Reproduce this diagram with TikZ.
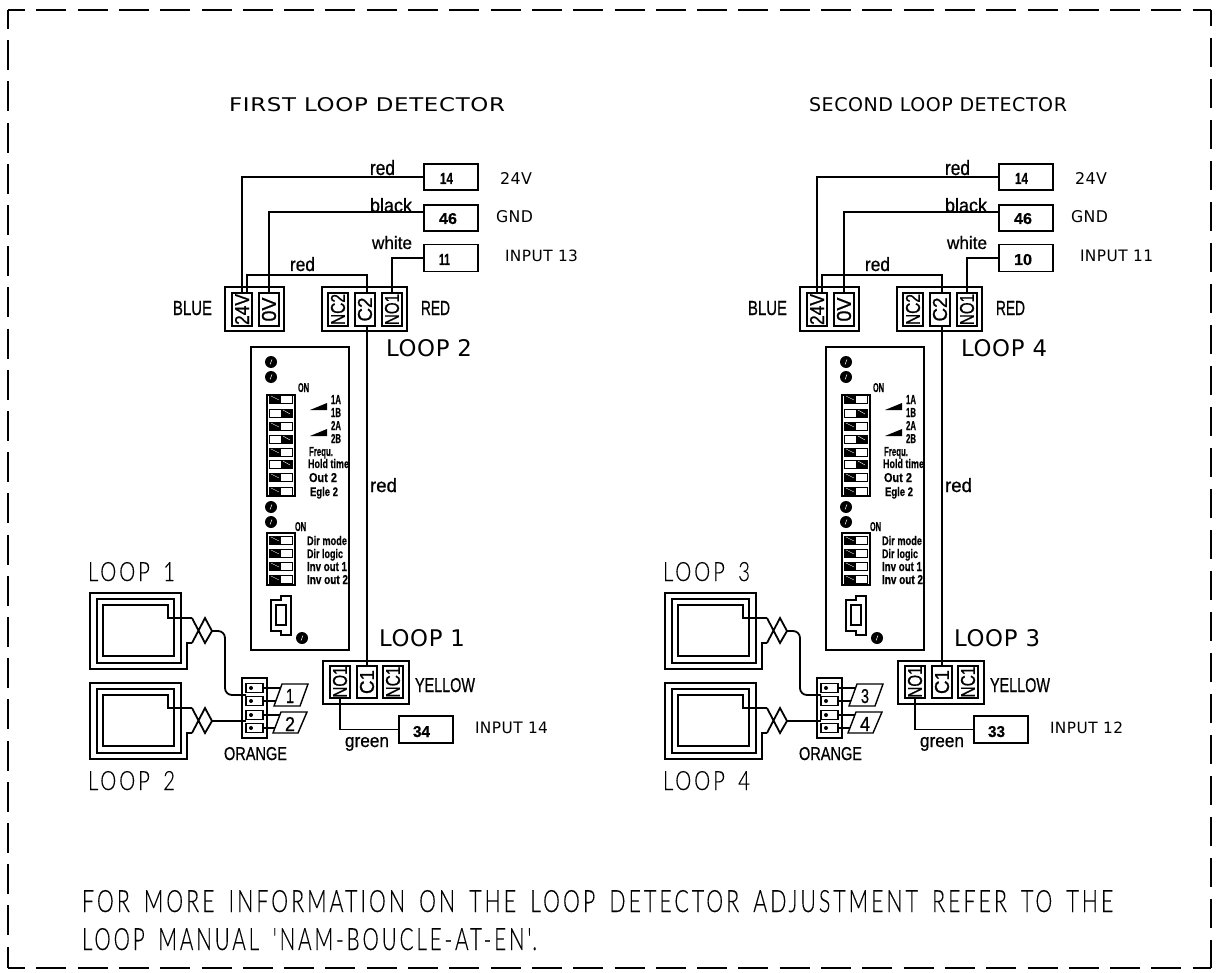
\documentclass[tikz,border=0pt]{standalone}
\usepackage{graphicx}
\usepackage{fontspec}
\setmainfont{Liberation Sans}
\newfontfamily\thinf[LetterSpace=12,FakeBold=0.25,FakeStretch=0.86,WordSpace=1.6]{Lato Light}
\newfontfamily\regf[LetterSpace=3]{DejaVu Sans}
\newfontfamily\cadf[FakeBold=0.8]{Liberation Sans}
\newfontfamily\smallf[FakeBold=0.5]{Liberation Sans Bold}
\newcommand{\T}[6]{\node[lbl] (#1) at (#2,#3) {\resizebox{#4pt}{#5pt}{#6}};}
\newcommand{\V}[6]{\node[lbl,anchor=center,rotate=90] (#1) at (#2,#3) {\resizebox{#4pt}{#5pt}{#6}};}
\newcommand{\ledmark}[3]{\node[led] (#1) at (#2,#3) {};\draw[white,line width=.5pt] (#2-1,#3+2.5) -- (#2+1,#3-2.5);}
\newcommand{\diprow}[3]{%
  \node[dipcell] (#1) at (280.5,#2) {};
  \if#3L\fill (269,#2-4) rectangle (281,#2+4);\draw[white,line width=.4pt] (271,#2-3) -- (279,#2+1);\else
  \fill (281,#2-4) rectangle (292,#2+4);\draw[white,line width=.4pt] (283,#2-3) -- (290,#2+1);\fi}
\newcommand{\spiral}[2]{%
  \coordinate (#1in) at (192,#2+25);
  \coordinate (#1out) at (192,#2+50);
  \draw[wire] (#1in) -- (168,#2+25) -- (168,#2+12) -- (103,#2+12) -- (103,#2+63) -- (174,#2+63)
     -- (174,#2+6) -- (97,#2+6) -- (97,#2+70) -- (181,#2+70) -- (181,#2) -- (90,#2) -- (90,#2+76)
     -- (187,#2+76) -- (187,#2+50) -- (#1out);
  \coordinate (#1tip) at (212,#2+38);
  \draw[wire] (#1in) -- (205,#2+50) -- (#1tip) -- (205,#2+25) -- (#1out);}
\newcommand{\detector}[8]{%
\begin{scope}[shift={(#2,0)},name prefix=#1-]
  % field boxes
  \node[fbox,minimum width=54,minimum height=26] (b14) at (451,177) {};
  \node[fbox,minimum width=54,minimum height=26] (b46) at (451,218) {};
  \node[fbox,minimum width=54,minimum height=27] (bin) at (451,258) {};
  \node[fbox,minimum width=54,minimum height=27] (bout) at (426,729.5) {};
  \T{n14}{440}{184}{13}{11}{\smallf 14}
  \T{n46}{439}{224}{18}{11}{\smallf 46}
  \T{nin}{439}{265}{#5}{11}{\smallf #6}
  \T{nout}{413}{737}{17}{11}{\smallf #7}
  % terminal blocks
  \node[fbox,minimum width=59,minimum height=44] (oB) at (254.5,309) {};
  \node[fbox,minimum width=85,minimum height=44] (oR) at (364.5,309) {};
  \node[fbox,minimum width=86,minimum height=43] (oY) at (366,682.5) {};
  \foreach \n/\x in {t24/242,t0/269,tNC2/338,tC2/365,tNO1/392}{
    \node[term] (\n) at (\x,309.5) {};
  }
  \foreach \n/\x in {yNO1/340,yC1/367,yNC1/393}{
    \node[term,minimum height=32] (\n) at (\x,682) {};
  }
  \V{l24}{242}{309.5}{31}{14}{\cadf 24V}
  \V{l0}{269}{309.5}{24}{14}{\cadf 0V}
  \V{lNC2}{338}{309.5}{31}{14}{\cadf NC2}
  \V{lC2}{365}{309.5}{24}{14}{\cadf C2}
  \V{lNO1}{392}{309.5}{31}{14}{\cadf NO1}
  \V{lyNO1}{340}{682}{31}{14}{\cadf NO1}
  \V{lyC1}{367}{682}{24}{14}{\cadf C1}
  \V{lyNC1}{393}{682}{31}{14}{\cadf NC1}
  % wires
  \draw[wire] (b14.west) -| (t24.north);
  \draw[wire] ([yshift=6pt]b46.west) -| (t0.north);
  \draw[wire] ([xshift=5pt]t24.north) -- ++(0,-18) -| ([xshift=2pt]tC2.north);
  \draw[wire] (bin.west) -| (tNO1.north);
  \draw[wire] ([xshift=2pt]tC2.south) -- (yC1.north);
  \draw[wire] (yNO1.south) |- (bout.west);
  % wire labels
  \T{wr1}{370}{175}{25}{15}{\cadf red}
  \T{wb}{370}{212}{42}{14}{\cadf black}
  \T{ww}{372}{249}{40}{13}{\cadf white}
  \T{wr2}{290}{271}{25}{14}{\cadf red}
  \T{wr3}{370}{492}{27}{14}{\cadf red}
  \T{wg}{345}{747}{44}{10}{\cadf green}
  \T{cB}{173}{315}{39}{14}{\cadf BLUE}
  \T{cR}{421}{315}{29}{14}{\cadf RED}
  \T{cY}{415}{692}{60}{14}{\cadf YELLOW}
  \T{cO}{224}{760}{63}{13}{\cadf ORANGE}
  % right notes
  \T{i24}{500}{185}{32}{12}{\regf 24V}
  \T{iG}{496}{223}{37}{12}{\regf GND}
  \T{iI}{505}{262}{73}{11.5}{\regf INPUT #8}
  \T{iO}{475}{733}{73}{11.5}{\regf INPUT \the\numexpr#8+1\relax}
  \T{lU}{386}{356}{86}{17}{\regf LOOP #4}
  \T{lL}{379}{646}{86}{17}{\regf LOOP #3}
  % module panel
  \node[panel,minimum width=98,minimum height=303] (pan) at (300,498.5) {};
  \ledmark{d1}{271}{362}\ledmark{d2}{271}{377}
  \ledmark{d3}{271}{507}\ledmark{d4}{271}{522}\ledmark{d5}{302}{638}
  \node[dipbox,minimum width=28,minimum height=101] (dipA) at (281,445.5) {};
  \node[dipbox,minimum width=28,minimum height=52] (dipB) at (281,559) {};
  \diprow{ra}{399}{L}\diprow{rb}{413}{R}\diprow{rc}{426}{L}\diprow{rd}{439}{R}
  \diprow{re}{452}{L}\diprow{rf}{464}{R}\diprow{rg}{477}{L}\diprow{rh}{491}{L}
  \diprow{si}{540}{L}\diprow{sj}{553}{L}\diprow{sk}{566}{L}\diprow{sl}{579}{L}
  \fill (310,410) -- (327,403) -- (327,410) -- cycle;
  \fill (310,436) -- (327,429) -- (327,436) -- cycle;
  \T{on1}{298}{392}{11}{9}{\smallf ON}
  \T{on2}{295}{531}{11}{9}{\smallf ON}
  \T{a1}{331}{404}{10}{9}{\smallf 1A}
  \T{a2}{331}{417}{10}{9}{\smallf 1B}
  \T{a3}{331}{430}{10}{9}{\smallf 2A}
  \T{a4}{331}{443}{10}{9}{\smallf 2B}
  \T{f1}{309}{456}{24}{9}{\smallf Frequ.}
  \T{f2}{308}{468}{41}{9}{\smallf Hold time}
  \T{f3}{309}{482}{28}{9}{\smallf Out 2}
  \T{f4}{310}{496}{28}{9}{\smallf Egle 2}
  \T{g1}{307}{545}{40}{9}{\smallf Dir mode}
  \T{g2}{307}{558}{36}{9}{\smallf Dir logic}
  \T{g3}{307}{571}{40}{9}{\smallf Inv out 1}
  \T{g4}{307}{584}{41}{9}{\smallf Inv out 2}
  \draw[thin wire] (281,596) -- (291,596) -- (291,635) -- (281,635) -- (281,631) -- (271,631) -- (271,600) -- (281,600) -- cycle;
  \draw[thin wire] (276,605) rectangle (286,625);
  % loops
  \spiral{la}{593}
  \spiral{lb}{683}
  \T{bl1}{88}{581}{87}{19}{\thinf LOOP #3}
  \T{bl2}{88}{790}{87}{19}{\thinf LOOP #4}
  % orange connector
  \node[fbox,minimum width=25,minimum height=60] (oO) at (254.5,708) {};
  \foreach \n/\y in {p1/688,p2/701,p3/715,p4/728}{
    \node[pinbox] (\n) at (254.5,\y) {};
    \fill (251,\y) circle (2);
  }
  \draw[wire,rounded corners=7] (latip) -| (225,695) -- (p1.south west |- 0,695);
  \draw[wire] (lbtip) -- (p3.south west |- 0,721);
  \draw[thin wire] (282,684) -- (308,684) -- (300,706) -- (274,706) -- cycle;
  \draw[thin wire] (281,712) -- (307,712) -- (298,733) -- (273,733) -- cycle;
  \coordinate (ea) at (280.5,688);\coordinate (eb) at (276,701);
  \coordinate (ec) at (280,715);\coordinate (ed) at (275,728);
  \draw[thin wire] (p1.east) -- (ea);
  \draw[thin wire] (p2.east) -- (eb);
  \draw[thin wire] (p3.east) -- (ec);
  \draw[thin wire] (p4.east) -- (ed);
  \T{ta}{286}{703}{8}{14}{\cadf #3}
  \T{tb}{285}{731}{10}{14}{\cadf #4}
\end{scope}}
\begin{document}
\begin{tikzpicture}[x=1pt,y=-1pt,
  lbl/.style={inner sep=0pt,outer sep=0pt,anchor=base west},
  wire/.style={line width=1.8pt,line join=miter},
  thin wire/.style={line width=1.4pt},
  fbox/.style={draw,line width=1.8pt,inner sep=0pt,outer sep=0pt},
  term/.style={draw,line width=1.8pt,inner sep=0pt,outer sep=0pt,minimum width=20,minimum height=33},
  panel/.style={draw,line width=1.5pt,inner sep=0pt,outer sep=0pt},
  dipbox/.style={draw,line width=1.6pt,inner sep=0pt,outer sep=0pt},
  dipcell/.style={draw,line width=.9pt,inner sep=0pt,outer sep=0pt,minimum width=23,minimum height=8},
  led/.style={circle,fill=black,inner sep=0pt,minimum size=12},
  pinbox/.style={draw,line width=1.5pt,inner sep=0pt,outer sep=0pt,minimum width=17,minimum height=9},
  frameline/.style={line width=1.7pt}]
\useasboundingbox (0,0) rectangle (1225,973);
\coordinate (tl) at (8,10);\coordinate (tr) at (1211,10);
\coordinate (bl) at (8,968);\coordinate (br) at (1211,968);
\draw[frameline,dash pattern=on 30pt off 11.3pt,dash phase=13pt] (tl) -- (tr);
\draw[frameline,dash pattern=on 30pt off 11.3pt,dash phase=13pt] (bl) -- (br);
\draw[frameline,dash pattern=on 30pt off 11.2pt,dash phase=11pt] (tl) -- (bl);
\draw[frameline,dash pattern=on 29pt off 12pt,dash phase=1pt] (br) -- (tr);
\T{t1}{229}{112}{276}{14}{\regf FIRST LOOP DETECTOR}
\T{t2}{809}{112}{258}{14}{\regf SECOND LOOP DETECTOR}
\detector{a}{0}{1}{2}{11}{11}{34}{13}
\detector{b}{575}{3}{4}{18}{10}{33}{11}
\T{n1}{82}{912}{1031}{22}{\thinf FOR MORE INFORMATION ON THE LOOP DETECTOR ADJUSTMENT REFER TO THE}
\T{n2}{82}{950}{455}{22}{\thinf LOOP MANUAL 'NAM-BOUCLE-AT-EN'.}
\end{tikzpicture}
\end{document}
